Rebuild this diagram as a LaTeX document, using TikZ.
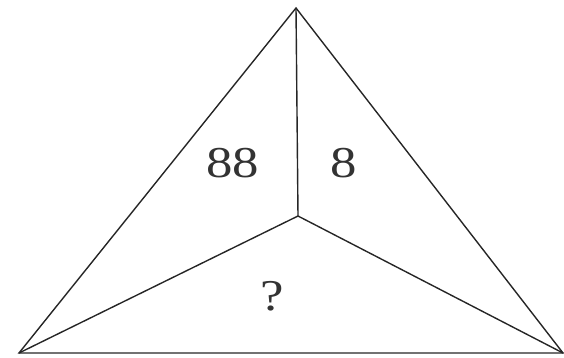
\documentclass[tikz,border=0pt]{standalone}
\usepackage{fontspec}
\setmainfont{Liberation Serif}
\usepackage{graphicx}
\begin{document}
\begin{tikzpicture}[x=1pt,y=-1pt,
  edge/.style={draw=black!85,line width=1.4pt,line join=miter},
  lbl/.style={inner sep=0pt,text=black!80,font=\fontsize{44}{50}\selectfont}]
\useasboundingbox (0,0) rectangle (564,357);
\coordinate (A) at (296,8);
\coordinate (L) at (19,353);
\coordinate (R) at (563,353);
\coordinate (O) at (298,216);
\draw[edge] (A) -- (L) -- (R) -- cycle;
\draw[edge] (A) -- (O);
\draw[edge] (O) -- (L);
\draw[edge] (O) -- (R);
\node[lbl] (t88) at (232.5,163) {\scalebox{1.2}[1]{88}};
\node[lbl] (t8) at (343.5,163) {\scalebox{1.2}[1]{8}};
\node[lbl] (tq) at (272,296) {\scalebox{1.2}[1]{?}};
\end{tikzpicture}
\end{document}
